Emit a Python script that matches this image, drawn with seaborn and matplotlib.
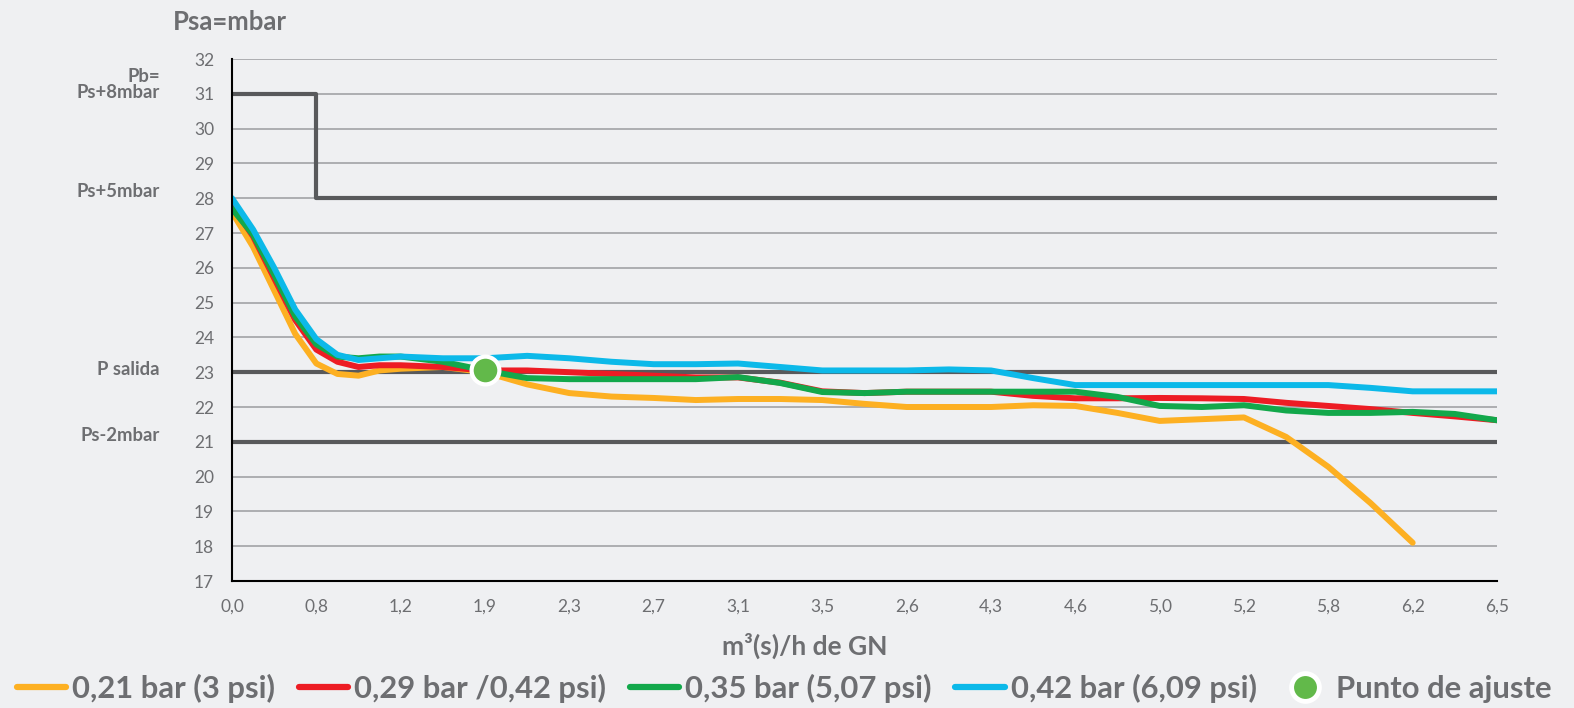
# -*- coding: utf-8 -*-
"""
Curvas de regulacion: presion de salida (mbar) frente a caudal de GN
para cuatro presiones de entrada, con limites Pb y Ps-2mbar.
"""
import numpy as np
import pandas as pd
import seaborn as sns
from matplotlib import pyplot as plt
from matplotlib.lines import Line2D
import matplotlib.transforms as mtransforms

#--------------------------Data----------------------------------------------
#x tick labels (categorical axis, equally spaced)
x_labels = ['0,0', '0,8', '1,2', '1,9', '2,3', '2,7', '3,1', '3,5',
            '2,6', '4,3', '4,6', '5,0', '5,2', '5,8', '6,2', '6,5']
y_ticks = list(range(17, 33))

#sample positions along the categorical axis (tick index units)
pos = [0, 0.25, 0.5, 0.75, 1.0, 1.25, 1.5, 1.75, 2.0, 2.5, 3.0, 3.5, 4.0,
       4.5, 5.0, 5.5, 6.0, 6.5, 7.0, 7.5, 8.0, 8.5, 9.0, 9.5, 10.0, 10.5,
       11.0, 11.5, 12.0, 12.5, 13.0, 13.5, 14.0, 14.5, 15.0]

p_021 = [27.6, 26.6, 25.35, 24.1, 23.25, 22.95, 22.9, 23.05, 23.1, 23.15,
         23.0, 22.65, 22.4, 22.3, 22.26, 22.2, 22.23, 22.23, 22.2, 22.09,
         22.0, 22.0, 22.0, 22.05, 22.03, 21.83, 21.6, 21.65, 21.7, 21.14,
         20.28, 19.24, 18.1]
p_029 = [27.8, 26.9, 25.7, 24.5, 23.65, 23.3, 23.15, 23.2, 23.2, 23.15,
         23.05, 23.05, 23.0, 22.95, 22.9, 22.85, 22.85, 22.7, 22.45, 22.4,
         22.44, 22.44, 22.44, 22.32, 22.25, 22.25, 22.26, 22.25, 22.23,
         22.12, 22.03, 21.94, 21.83, 21.73, 21.62]
p_035 = [27.7, 26.95, 25.8, 24.6, 23.8, 23.45, 23.4, 23.45, 23.45, 23.3,
         23.05, 22.83, 22.8, 22.8, 22.8, 22.8, 22.86, 22.69, 22.43, 22.4,
         22.44, 22.44, 22.44, 22.44, 22.44, 22.29, 22.03, 22.0, 22.05,
         21.9, 21.83, 21.83, 21.86, 21.8, 21.62]
p_042 = [28.0, 27.1, 26.0, 24.8, 23.95, 23.5, 23.35, 23.4, 23.45, 23.4,
         23.4, 23.47, 23.4, 23.3, 23.23, 23.23, 23.25, 23.15, 23.05, 23.05,
         23.05, 23.08, 23.05, 22.83, 22.63, 22.63, 22.63, 22.63, 22.63,
         22.63, 22.63, 22.55, 22.45, 22.45, 22.45]

series_names = ['0,21 bar (3 psi)', '0,29 bar /0,42 psi)',
                '0,35 bar (5,07 psi)', '0,42 bar (6,09 psi)']
series_colors = ['#fdb022', '#ed1c24', '#12a84b', '#0cb9e9']

#Pb limit (step) and reference levels
pb_x = [0, 1, 1, 15]
pb_y = [31, 31, 28, 28]
ref_levels = [23, 21]

#set point
set_x = [3.0]
set_y = [23.05]

#-------------------------Build long dataframe--------------------------------
frames = []
for name, vals in zip(series_names, [p_021, p_029, p_035, p_042]):
    frames.append(pd.DataFrame({'pos': pos[:len(vals)], 'mbar': vals,
                                'serie': name}))
df = pd.concat(frames, ignore_index=True)

#-------------------------Plot-----------------------------------------------
bg = '#eff0f2'
txt = '#6d6e71'
dark = '#58595b'

sns.set_style('white')
plt.rcParams['font.family'] = ['Lato', 'DejaVu Sans']

fig = plt.figure(figsize=(15.74, 7.08), dpi=100, facecolor=bg)
ax = fig.add_axes([232/1574, 1 - 581/708, (1497-232)/1574, (581-59)/708])
ax.set_facecolor(bg)

#grid
for yv in y_ticks:
    ax.axhline(yv, color='#a7a9ac', lw=1.3, zorder=1)
for yv in ref_levels:
    ax.axhline(yv, color=dark, lw=3, zorder=2)

ax.plot(pb_x, pb_y, color=dark, lw=3, zorder=2)

sns.lineplot(data=df, x='pos', y='mbar', hue='serie', hue_order=series_names,
             palette=series_colors, lw=4.3, sort=False, legend=False,
             ax=ax, zorder=3)
for line in ax.get_lines()[-4:]:
    line.set_solid_capstyle('round')
    line.set_solid_joinstyle('round')

sns.scatterplot(x=set_x, y=set_y, color='#62b94a', s=400, edgecolor='white',
                linewidth=3, ax=ax, zorder=5, legend=False)

#axes
ax.set_xlim(0, 15)
ax.set_ylim(17, 32)
ax.set_xticks(range(len(x_labels)))
ax.set_xticklabels(x_labels)
ax.set_yticks(y_ticks)
ax.tick_params(axis='both', direction='out', length=6, width=1.2,
               color='black', labelsize=12.5, labelcolor=txt, pad=7)
for s in ['top', 'right']:
    ax.spines[s].set_visible(False)
for s in ['left', 'bottom']:
    ax.spines[s].set_color('black')
    ax.spines[s].set_linewidth(1.5)
    ax.spines[s].set_zorder(6)
ax.set_xlabel('')
ax.set_ylabel('')

fig.text(805/1574, 1 - 646/708, 'm³(s)/h de GN', ha='center', va='center',
         fontsize=19, weight='bold', color=txt)

#left side labels
trans = mtransforms.blended_transform_factory(ax.transAxes, ax.transData)
lx = (160 - 232) / 1265
lab_kw = dict(transform=trans, ha='right', va='center', fontsize=13.3,
              weight='bold', color=txt)
ax.text(lx, 31.5, 'Pb=', **lab_kw)
ax.text(lx, 31.05, 'Ps+8mbar', **lab_kw)
ax.text(lx, 28.2, 'Ps+5mbar', **lab_kw)
ax.text(lx, 23.08, 'P salida', **lab_kw)
ax.text(lx, 21.17, 'Ps-2mbar', **lab_kw)

fig.text(230/1574, 1 - 22/708, 'Psa=mbar', ha='center', va='center',
         fontsize=18.5, weight='bold', color=txt)

#legend
handles = [Line2D([0], [0], color=c, lw=4.5) for c in series_colors]
handles.append(Line2D([0], [0], marker='o', ls='', markersize=20,
                      markerfacecolor='#62b94a', markeredgecolor='white',
                      markeredgewidth=3.5))
leg = fig.legend(handles, series_names + ['Punto de ajuste'], loc='center',
                 bbox_to_anchor=(784/1574, 20/708), ncol=5, frameon=False,
                 handlelength=1.6, handletextpad=0.2, columnspacing=0.75,
                 prop={'size': 22.3, 'weight': 'bold'})
for t in leg.get_texts():
    t.set_color(txt)

fig.savefig('out.png', dpi=100, facecolor=bg)
